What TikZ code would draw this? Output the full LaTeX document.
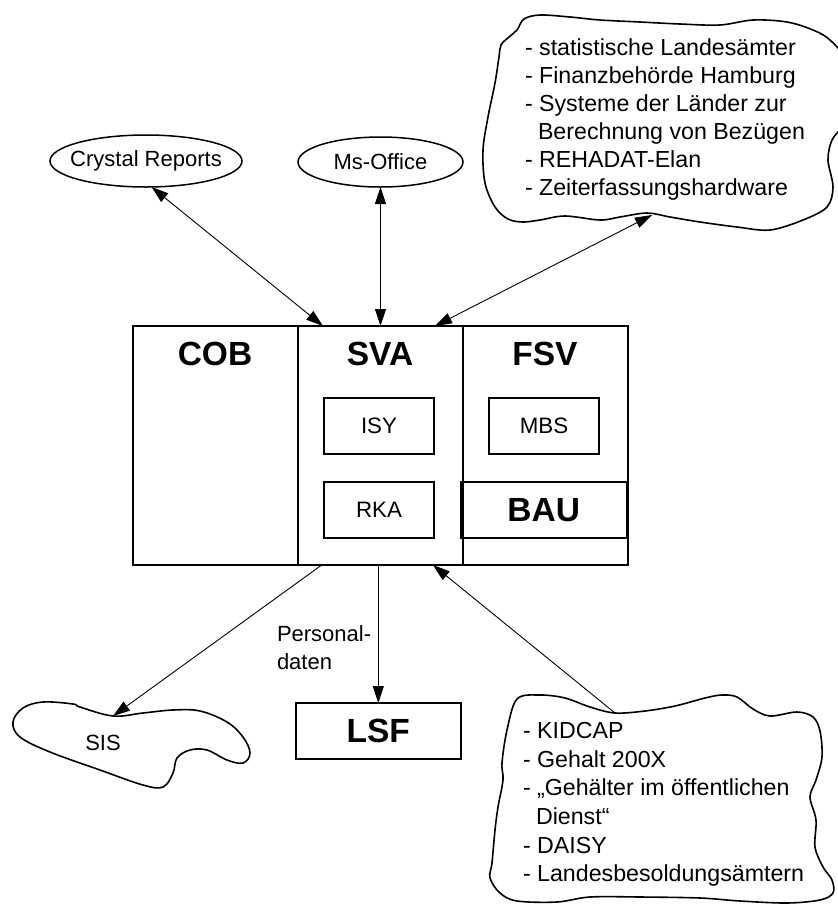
\documentclass[tikz,border=0pt]{standalone}
\usepackage{fontspec}
\setmainfont{Liberation Sans}
\usetikzlibrary{arrows.meta,shapes.geometric}

\begin{document}
\begin{tikzpicture}[x=1pt,y=-1pt,
  every node/.style={font=\fontsize{22}{28}\selectfont, inner sep=0pt, outer sep=0pt},
  column/.style={draw, line width=1.6pt, minimum width=165pt, minimum height=239pt, anchor=north west},
  title/.style={font=\bfseries\fontsize{33.5}{40}\selectfont, anchor=base},
  subbox/.style={draw, line width=1.6pt, minimum width=110pt, minimum height=56pt,
                 font=\fontsize{22.3}{28}\selectfont},
  bigbox/.style={draw, line width=1.6pt, minimum width=166pt, minimum height=56pt,
                 font=\bfseries\fontsize{33.5}{40}\selectfont},
  tool/.style={draw, ellipse, line width=1.5pt},
  cloudline/.style={line width=1.6pt},
  tip/.tip={Triangle[length=17pt,width=11pt]},
  conn/.style={line width=0.9pt, -tip},
  biconn/.style={line width=0.9pt, tip-tip},
  listtext/.style={align=left, anchor=base west, font=\fontsize{23.2}{28}\selectfont},
]
\useasboundingbox (0,0) rectangle (838,906);

% main block with its three columns
\node[column] (cob) at (132.7,326) {};
\node[column] (sva) at (297.7,326) {};
\node[column] (fsv) at (462.7,326) {};
\node[title] (cobT) at (215,365) {COB};
\node[title] (svaT) at (380,365) {SVA};
\node[title] (fsvT) at (545,365) {FSV};

\node[subbox] (isy) at (379,426) {ISY};
\node[subbox] (rka) at (379,509.7) {RKA};
\node[subbox] (mbs) at (544,426) {MBS};
\node[bigbox] (bau) at (543.7,509.7) {BAU};

% external tools: fixed-size ellipses with their names on top
\node[tool, minimum width=192pt, minimum height=52pt] (crystal) at (146,161) {};
\node (crystalT) at (crystal.center) {Crystal Reports};
\node[tool, minimum width=165pt, minimum height=50pt] (msoffice) at (380.5,162) {};
\node (msofficeT) at (msoffice.center) {Ms-Office};

% cloud of external partners (top right)
\draw[cloudline] plot[smooth cycle, tension=0.55] coordinates {
  (524,19) (540,15) (570,17) (600,20) (640,22) (680,24) (720,25) (753,20)
  (787,22) (813,30) (830,40) (845,60) (850,100) (843,125) (832,140)
  (828,160) (833,187) (827,207) (803,220) (770,230) (737,227) (700,222)
  (670,217) (647,213) (620,217) (600,220) (565,216) (540,220) (523,222)
  (508,219) (495,207) (485,183) (483,150) (488,117) (495,83) (499,57)
  (501,45) (509,37) (517,30)};
\node[listtext] (partners) at (525,195) {%
  - statistische Landesämter\\
  - Finanzbehörde Hamburg\\
  - Systeme der Länder zur\\
  \hspace*{13pt}Berechnung von Bezügen\\
  - REHADAT-Elan\\
  - Zeiterfassungshardware};
\coordinate (partnersOut) at (652,215);

% cloud of salary sources (bottom right)
\draw[cloudline] plot[smooth cycle, tension=0.55] coordinates {
  (517,699) (540,695) (565,698) (590,707) (615,713) (645,711) (675,706)
  (705,698) (722,695) (737,697) (753,709) (770,716) (797,712) (813,717)
  (820,731) (822,757) (816,780) (810,797) (816,820) (815,847) (823,867)
  (832,880) (833,893) (820,900) (787,903) (740,901) (700,898) (640,897)
  (590,897) (557,902) (517,901) (500,893) (490,878) (492,863) (495,830)
  (498,807) (503,780) (502,763) (507,730)};
\node[listtext, font=\fontsize{23.2}{28.7}\selectfont] (sources) at (523,881.8) {%
  - KIDCAP\\
  - Gehalt 200X\\
  - „Gehälter im öffentlichen\\
  \hspace*{13pt}Dienst“\\
  - DAISY\\
  - Landesbesoldungsämtern};
\coordinate (sourcesOut) at (615,713);

% SIS cloud (bottom left)
\draw[cloudline] plot[smooth cycle, tension=0.6] coordinates {
  (23,708) (43,702) (73,704) (80,707) (113,716) (143,713) (173,710)
  (200,711) (227,722) (243,737) (250,753) (243,763) (227,760) (207,750)
  (190,750) (177,758) (173,773) (163,787) (143,785) (100,770) (50,752)
  (20,737) (13,722)};
\node (sis) at (103,743) {SIS};
\coordinate (sisIn) at (113,716);

% LSF
\node[bigbox, minimum width=165pt] (lsf) at (378.3,731) {LSF};

% connection points on the main block
\coordinate (svaTopL) at (323,326);
\coordinate (svaTopR) at (435,326);
\coordinate (svaBotL) at (321.7,565);
\coordinate (svaBotR) at (433,565);

% connectors
\draw[biconn] (crystal.-78) -- (svaTopL);
\draw[biconn] (msoffice.south) -- (msoffice.south |- sva.north);
\draw[biconn] (partnersOut) -- (svaTopR);
\draw[conn] (svaBotL) -- (sisIn);
\draw[conn] (lsf.north |- sva.south) -- (lsf.north);
\draw[conn] (sourcesOut) -- (svaBotR);
\node[align=left, anchor=base west] (lsfLabel) at (277,669.3) {\fontsize{22}{29}\selectfont Personal-\\daten};
\end{tikzpicture}
\end{document}
